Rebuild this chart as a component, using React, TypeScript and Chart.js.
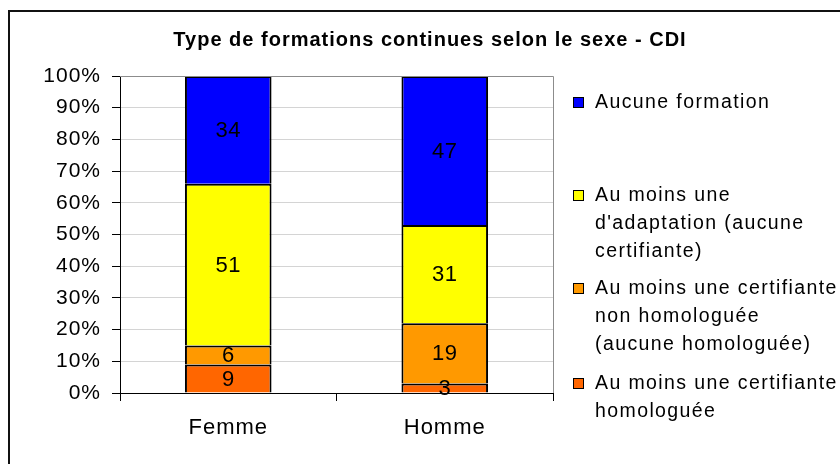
import React, { useEffect, useRef } from "react";
import { Chart, registerables } from "chart.js";

Chart.register(...registerables);

const TITLE = "Type de formations continues selon le sexe - CDI";
const categories = ["Femme", "Homme"];
const seriesNames = [
  "Au moins une certifiante homologuée",
  "Au moins une certifiante non homologuée (aucune homologuée)",
  "Au moins une d'adaptation (aucune certifiante)",
  "Aucune formation",
];
const legendLines: string[][] = [
  ["Au moins une certifiante", "homologuée"],
  ["Au moins une certifiante", "non homologuée", "(aucune homologuée)"],
  ["Au moins une", "d'adaptation (aucune", "certifiante)"],
  ["Aucune formation"],
];
const homologuee = [9, 3];
const nonHomologuee = [6, 19];
const adaptation = [51, 31];
const aucune = [34, 47];
const colors = ["#FF6600", "#FF9900", "#FFFF00", "#0000FF"];
const yTicks = [0, 10, 20, 30, 40, 50, 60, 70, 80, 90, 100];

const FONT = "'Liberation Sans', Arial, sans-serif";

const framePlugin = {
  id: "frame",
  beforeDraw(chart: any) {
    const ctx = chart.ctx;
    ctx.save();
    ctx.strokeStyle = "#111";
    ctx.lineWidth = 2;
    ctx.strokeRect(9, 11, 900, 500);
    ctx.restore();
    (ctx as any).letterSpacing = "1px";
  },
};

const overlayPlugin = {
  id: "overlay",
  afterDatasetsDraw(chart: any) {
    const ctx = chart.ctx;
    const area = chart.chartArea;
    ctx.save();
    ctx.strokeStyle = "#8c8c8c";
    ctx.lineWidth = 1;
    ctx.beginPath();
    ctx.moveTo(area.left, area.top + 0.5);
    ctx.lineTo(area.right + 0.5, area.top + 0.5);
    ctx.lineTo(area.right + 0.5, area.bottom);
    ctx.stroke();
    (ctx as any).letterSpacing = "0.5px";
    ctx.fillStyle = "#000";
    ctx.font = `22px ${FONT}`;
    ctx.textAlign = "center";
    ctx.textBaseline = "middle";
    chart.data.datasets.forEach((ds: any, i: number) => {
      const meta = chart.getDatasetMeta(i);
      meta.data.forEach((el: any, j: number) => {
        const v = ds.data[j];
        ctx.fillText(String(v), el.x, (el.y + el.base) / 2 + 1);
      });
    });
    ctx.restore();
  },
  afterDraw(chart: any) {
    const ctx = chart.ctx;
    ctx.save();
    (ctx as any).letterSpacing = "1px";
    ctx.fillStyle = "#000";
    ctx.font = `bold 20px ${FONT}`;
    ctx.textAlign = "center";
    ctx.textBaseline = "middle";
    ctx.fillText(TITLE, 430, 40);
    const starts = [102, 195, 288, 383];
    const lineH = 28;
    ctx.font = `19.5px ${FONT}`;
    (ctx as any).letterSpacing = "1.4px";
    ctx.textAlign = "left";
    const n = chart.data.datasets.length;
    for (let k = 0; k < n; k++) {
      const dsIndex = n - 1 - k;
      const ds = chart.data.datasets[dsIndex];
      const y0 = starts[k];
      ctx.fillStyle = ds.backgroundColor;
      ctx.fillRect(573, y0 - 5, 11, 11);
      ctx.strokeStyle = "#000";
      ctx.lineWidth = 1;
      ctx.strokeRect(573.5, y0 - 4.5, 10, 10);
      ctx.fillStyle = "#000";
      legendLines[dsIndex].forEach((line, li) => {
        ctx.fillText(line, 595, y0 + li * lineH + 1);
      });
    }
    ctx.restore();
  },
};

export default function App() {
  const ref = useRef<HTMLCanvasElement | null>(null);
  useEffect(() => {
    if (!ref.current) return;
    const series = [homologuee, nonHomologuee, adaptation, aucune];
    const chart = new Chart(ref.current, {
      type: "bar",
      data: {
        labels: categories,
        datasets: series.map((d, i) => ({
          label: seriesNames[i],
          data: d,
          backgroundColor: colors[i],
          borderColor: "#000",
          borderWidth: { top: 2, bottom: 0, left: 2, right: 2 },
          borderSkipped: false,
          categoryPercentage: 1,
          barPercentage: 0.4,
        })),
      },
      options: {
        animation: false,
        responsive: false,
        maintainAspectRatio: false,
        devicePixelRatio: 1,
        layout: { padding: { left: 0, top: 76, right: 287, bottom: 0 } },
        plugins: {
          legend: { display: false },
          title: { display: false },
          tooltip: { enabled: false },
        },
        scales: {
          x: {
            stacked: true,
            offset: true,
            grid: {
              offset: true,
              drawOnChartArea: false,
              drawTicks: true,
              tickLength: 8,
              tickColor: "#000",
            },
            border: { color: "#000", width: 1 },
            ticks: {
              color: "#000",
              font: { family: FONT, size: 22 },
              padding: 14,
            },
            afterFit: (s: any) => {
              s.height = 464 - 393;
            },
          },
          y: {
            stacked: true,
            min: 0,
            max: 100,
            afterBuildTicks: (s: any) => {
              s.ticks = yTicks.map((v) => ({ value: v }));
            },
            grid: {
              color: "#d4d4d4",
              tickColor: "#000",
              tickLength: 8,
            },
            border: { color: "#000", width: 1 },
            ticks: {
              color: "#000",
              font: { family: FONT, size: 21 },
              padding: 11,
              callback: (v: any) => v + "%",
            },
            afterFit: (s: any) => {
              s.width = 120;
            },
          },
        },
      },
      plugins: [framePlugin, overlayPlugin],
    });
    return () => chart.destroy();
  }, []);
  return (
    <div style={{ position: "absolute", left: 0, top: 0, width: 840, height: 464, background: "#fff" }}>
      <canvas ref={ref} width={840} height={464} style={{ width: 840, height: 464, display: "block" }} />
    </div>
  );
}
